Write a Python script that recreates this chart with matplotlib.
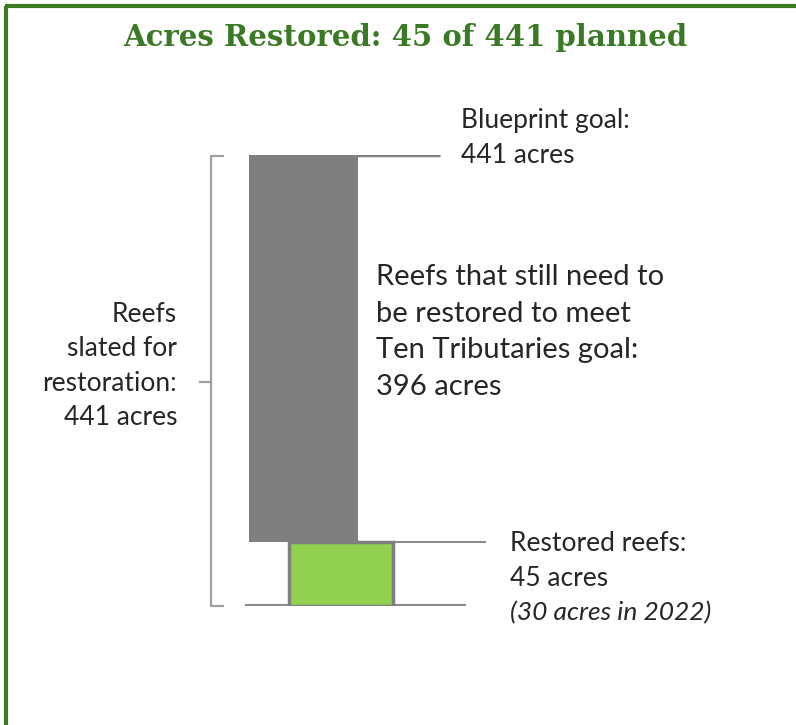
import numpy as np
import matplotlib.pyplot as plt

# data (acres)
goal = 441
restored = 45
remaining = goal - restored
title = "Acres Restored: 45 of 441 planned"

gray = '#7f7f7f'
lgreen = '#92d050'
dgreen = '#3b7a24'

W, H = 796, 725
fig = plt.figure(figsize=(W/100, H/100), dpi=100)

# overlay axes in pixel coordinates for text / frame
ov = fig.add_axes([0, 0, 1, 1])
ov.set_xlim(0, W)
ov.set_ylim(H, 0)
ov.axis('off')

# data axes: y=0 at px 606, y=441 at px 155
y0, y1 = 606, 155
ax = fig.add_axes([0, (H-y0)/H, 1, (y0-y1)/H])
ax.set_xlim(0, W)
p = 0.855
ax.set_yscale('function', functions=(lambda v: np.sign(v)*np.abs(v)**p,
                                     lambda v: np.sign(v)*np.abs(v)**(1/p)))
ax.set_ylim(0, goal)
ax.axis('off')

# bars
ax.bar(303.5, remaining, bottom=restored, width=109, color=gray, zorder=2)
ax.bar(341, restored, width=104, color=lgreen, edgecolor=gray, linewidth=2.5, zorder=3)

# reference lines
ax.hlines(goal, 249, 440, color=gray, lw=2.5, zorder=1)
ax.hlines(restored, 394, 486, color='#8c8c8c', lw=1.5, zorder=1)
ax.hlines(0, 245, 466, color='#8c8c8c', lw=3, zorder=1)

# bracket
bc = '#a0a0a0'
ov.plot([223, 211, 211, 223], [156, 156, 606, 606], color=bc, lw=1.6)
ov.plot([200, 211], [382, 382], color=bc, lw=1.6)

# frame
ov.plot([5, W], [6, 6], color=dgreen, lw=3, solid_capstyle='butt')
ov.plot([6, 6], [6, H], color=dgreen, lw=3, solid_capstyle='butt')

# title
ov.text(405, 37, title, ha='center', va='center', fontsize=21,
        fontweight='bold', family='DejaVu Serif', color=dgreen)

txt = dict(family='Lato', color='#262626')
ov.text(461, 138, "Blueprint goal:\n441 acres", ha='left', va='center',
        fontsize=19, linespacing=1.48, **txt)
ov.text(376, 332, "Reefs that still need to\nbe restored to meet\nTen Tributaries goal:\n396 acres",
        ha='left', va='center', fontsize=21, linespacing=1.5, **txt)
ov.text(177, 366, "Reefs\nslated for\nrestoration:\n441 acres", ha='right',
        va='center', fontsize=19, linespacing=1.48, **txt)
ov.text(510, 561, "Restored reefs:\n45 acres", ha='left', va='center',
        fontsize=19, linespacing=1.48, **txt)
ov.text(510, 613, "(30 acres in 2022)", ha='left', va='center',
        fontsize=19, style='italic', **txt)

plt.savefig('out.png', dpi=100)
